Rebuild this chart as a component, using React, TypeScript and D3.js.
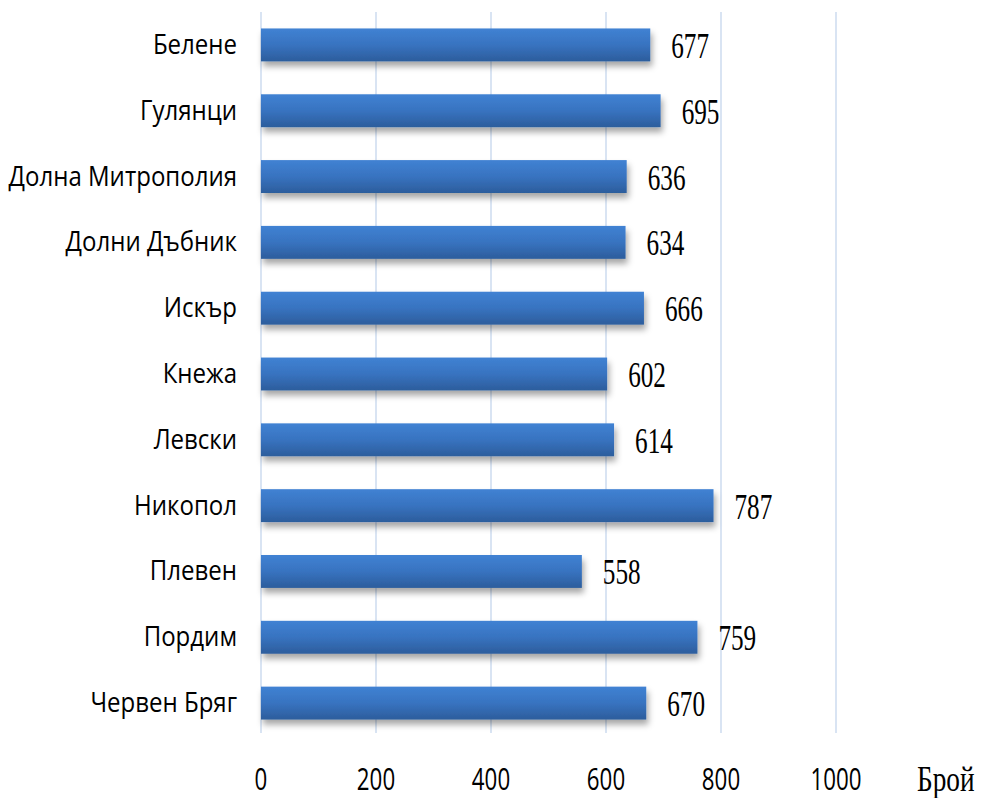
import React from "react";
import * as d3 from "d3";

const categories = [
  "Белене",
  "Гулянци",
  "Долна Митрополия",
  "Долни Дъбник",
  "Искър",
  "Кнежа",
  "Левски",
  "Никопол",
  "Плевен",
  "Пордим",
  "Червен Бряг",
];
const values = [677, 695, 636, 634, 666, 602, 614, 787, 558, 759, 670];
const ticks = [0, 200, 400, 600, 800, 1000];
const axisTitle = "Брой";

const W = 984;
const H = 798;

export default function App() {
  const x = d3.scaleLinear().domain([0, 1000]).range([261, 836]);
  const y = d3
    .scaleBand<string>()
    .domain(categories)
    .range([12, 736])
    .paddingInner(0.5)
    .paddingOuter(0.25);
  const bw = y.bandwidth();
  const sansFont = "'Open Sans', sans-serif";
  const serifFont = "'Liberation Serif', 'Times New Roman', serif";

  return (
    <svg
      width={W}
      height={H}
      style={{ position: "absolute", left: 0, top: 0, background: "#fff" }}
    >
      <defs>
        <linearGradient id="barGrad" x1="0" y1="0" x2="0" y2="1">
          <stop offset="0" stopColor="#4082d3" />
          <stop offset="0.5" stopColor="#3873c0" />
          <stop offset="1" stopColor="#2c5d9c" />
        </linearGradient>
        <filter id="shadow" x="-5%" y="-30%" width="115%" height="180%">
          <feDropShadow dx="2" dy="5" stdDeviation="3" floodColor="#000" floodOpacity="0.35" />
        </filter>
      </defs>
      {ticks.map((t) => (
        <line
          key={"g" + t}
          x1={x(t)}
          x2={x(t)}
          y1={12}
          y2={733}
          stroke="#d9e4f3"
          strokeWidth={2}
        />
      ))}
      {categories.map((c, i) => (
        <rect
          key={"b" + c}
          x={x(0)}
          y={y(c)!}
          width={x(values[i]) - x(0)}
          height={bw}
          fill="url(#barGrad)"
          filter="url(#shadow)"
        />
      ))}
      {categories.map((c, i) => (
        <text
          key={"v" + c}
          transform={`translate(${x(values[i]) + 21},${y(c)! + bw / 2 + 13}) scale(0.72,1)`}
          fontFamily={serifFont}
          fontSize={35}
          fill="#000"
        >
          {values[i]}
        </text>
      ))}
      {categories.map((c) => (
        <text
          key={"c" + c}
          transform={`translate(237,${y(c)! + bw / 2 + 9}) scale(0.89,1)`}
          fontFamily={sansFont}
          fontSize={27}
          textAnchor="end"
          fill="#000"
        >
          {c}
        </text>
      ))}
      {ticks.map((t) => (
        <text
          key={"t" + t}
          transform={`translate(${x(t)},790) scale(0.72,1)`}
          fontFamily={sansFont}
          fontSize={31}
          textAnchor="middle"
          fill="#000"
        >
          {t}
        </text>
      ))}
      <text
        transform={`translate(917,791) scale(0.78,1)`}
        fontFamily={serifFont}
        fontSize={35}
        fill="#000"
      >
        {axisTitle}
      </text>
    </svg>
  );
}
